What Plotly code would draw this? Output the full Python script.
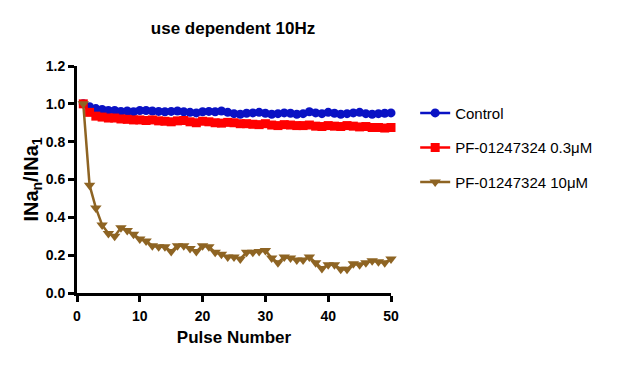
import plotly.graph_objects as go

pulses = list(range(1, 51))

control = [1.0, 0.985, 0.975, 0.97, 0.965, 0.965, 0.96, 0.962, 0.958, 0.965,
           0.965, 0.962, 0.96, 0.958, 0.96, 0.962, 0.958, 0.955, 0.952, 0.958,
           0.96, 0.958, 0.962, 0.955, 0.948, 0.945, 0.95, 0.952, 0.955, 0.95,
           0.945, 0.948, 0.952, 0.95, 0.945, 0.948, 0.958, 0.952, 0.948, 0.955,
           0.95, 0.945, 0.948, 0.952, 0.955, 0.948, 0.945, 0.948, 0.95, 0.952]

pf_03 = [1.0, 0.955, 0.935, 0.93, 0.925, 0.925, 0.92, 0.918, 0.915, 0.915,
         0.912, 0.915, 0.91, 0.908, 0.905, 0.91, 0.912, 0.905, 0.9, 0.908,
         0.905, 0.9, 0.898, 0.902, 0.9, 0.895, 0.895, 0.892, 0.89, 0.895,
         0.888, 0.885, 0.89, 0.888, 0.885, 0.885, 0.888, 0.882, 0.88, 0.885,
         0.882, 0.88, 0.885, 0.882, 0.878, 0.88, 0.875, 0.875, 0.872, 0.875]

pf_10 = [1.0, 0.57, 0.45, 0.36, 0.315, 0.30, 0.345, 0.33, 0.31, 0.285,
         0.275, 0.25, 0.245, 0.245, 0.22, 0.25, 0.25, 0.235, 0.22, 0.25,
         0.245, 0.215, 0.205, 0.19, 0.19, 0.18, 0.215, 0.215, 0.22, 0.225,
         0.185, 0.16, 0.19, 0.185, 0.175, 0.175, 0.19, 0.16, 0.13, 0.15,
         0.15, 0.125, 0.125, 0.155, 0.15, 0.16, 0.17, 0.165, 0.16, 0.18]

names = ["Control", "PF-01247324 0.3μM", "PF-01247324 10μM"]
colors = ["#0A12C4", "#FF0000", "#8E6423"]
symbols = ["circle", "square", "triangle-down"]
sizes = [9, 9, 10]

FONT = "Liberation Sans, Arial, sans-serif"

fig = go.Figure()
for i, (name, ys) in enumerate(zip(names, [control, pf_03, pf_10])):
    fig.add_trace(go.Scatter(
        x=pulses, y=ys, name=name, mode="lines+markers",
        line=dict(color=colors[i], width=2.5),
        marker=dict(color=colors[i], symbol=symbols[i], size=sizes[i]),
        cliponaxis=False, legendgroup=str(i)))

fig.update_layout(
    width=628, height=365,
    margin=dict(l=69, r=245, t=58, b=80),
    paper_bgcolor="white", plot_bgcolor="white",
    font=dict(family=FONT, color="black"),
    title=dict(text="use dependent 10Hz", x=225 / 628, xanchor="center",
               y=1 - 20 / 365, yanchor="middle",
               font=dict(size=17, weight="bold")),
    showlegend=True,
    legend=dict(x=1.077, y=0.865, xanchor="left", yanchor="top",
                font=dict(size=15), tracegroupgap=12, itemwidth=30,
                bgcolor="rgba(0,0,0,0)"),
)
fig.update_xaxes(range=[0, 50], tickvals=[0, 10, 20, 30, 40, 50],
                 showgrid=False, zeroline=False, showline=True,
                 linecolor="black", linewidth=3, ticks="outside",
                 ticklen=6, tickwidth=3, tickcolor="black",
                 tickfont=dict(size=14, family=FONT, weight="bold"),
                 ticklabelstandoff=2,
                 title=dict(text="Pulse Number", font=dict(size=17, weight="bold"),
                            standoff=9))
fig.update_yaxes(range=[0, 1.2], tickvals=[0, 0.2, 0.4, 0.6, 0.8, 1.0, 1.2],
                 tickformat=".1f",
                 showgrid=False, zeroline=False, showline=True,
                 linecolor="black", linewidth=3, ticks="outside",
                 ticklen=6, tickwidth=3, tickcolor="black",
                 tickfont=dict(size=14, family=FONT, weight="bold"),
                 title=dict(text="INa<sub>n</sub>/INa<sub>1</sub>",
                            font=dict(size=20, weight="bold"), standoff=2))

fig.write_html("out.html")
